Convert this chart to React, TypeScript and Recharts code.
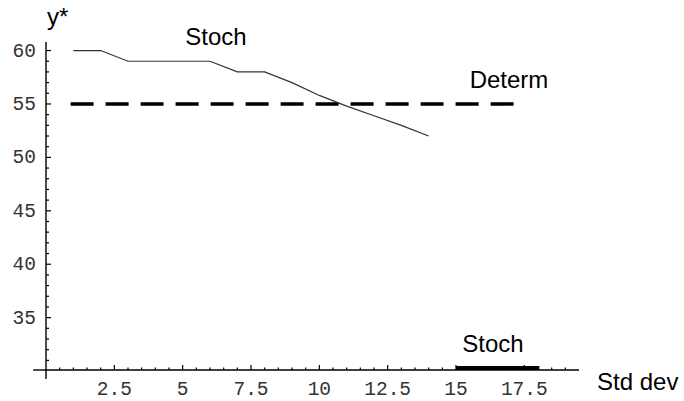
import {
  LineChart,
  Line,
  XAxis,
  YAxis,
  ReferenceLine,
} from "recharts";

// Stoch curve (optimal y* vs std dev)
const stochX = [1, 2, 3, 4, 5, 6, 7, 8, 9, 10, 11, 12, 13, 14];
const stochY = [60, 60, 59, 59, 59, 59, 58, 58, 57, 55.8, 54.8, 53.9, 53, 52];

// Determ is flat
const determX = [0.9, 17.4];
const determY = [55, 55];

// thick key segment near the axis
const keyX = [15, 18.05];
const keyY = [30.29, 30.29];

const xTicks = Array.from({ length: 38 }, (_, i) => (i + 1) * 0.5);
const yTicks = Array.from({ length: 30 }, (_, i) => 31 + i);
const xMajor = [2.5, 5, 7.5, 10, 12.5, 15, 17.5];
const yMajor = [35, 40, 45, 50, 55, 60];

const stochData = stochX.map((x, i) => ({ x, y: stochY[i] }));
const determData = determX.map((x, i) => ({ x, y: determY[i] }));
const keyData = keyX.map((x, i) => ({ x, y: keyY[i] }));

const tickFont = "'Liberation Mono', 'Courier New', monospace";
const labelFont = "'Liberation Sans', Arial, sans-serif";

const XTick = (props: any) => {
  const { x, y, payload } = props;
  const v = payload.value;
  const major = xMajor.includes(v);
  return (
    <g>
      <line x1={x} x2={x} y1={y} y2={y - (major ? 5 : 2.5)} stroke="#000" strokeWidth={1.2} />
      {major && (
        <text x={x} y={y + 25} textAnchor="middle" fontFamily={tickFont} fontSize={19.5} fill="#333">
          {v}
        </text>
      )}
    </g>
  );
};

const YTick = (props: any) => {
  const { x, y, payload } = props;
  const v = payload.value;
  const major = yMajor.includes(v);
  return (
    <g>
      <line x1={x} x2={x + (major ? 5 : 3)} y1={y} y2={y} stroke="#000" strokeWidth={1.2} />
      {major && (
        <text x={x - 10} y={y + 6} textAnchor="end" fontFamily={tickFont} fontSize={19.5} fill="#333">
          {v}
        </text>
      )}
    </g>
  );
};

export default function App() {
  return (
    <div style={{ position: "absolute", left: 0, top: 0, width: 684, height: 401, background: "#fff" }}>
      <LineChart
        width={684}
        height={401}
        margin={{ top: 42, left: 0, right: 105, bottom: 0 }}
      >
        <XAxis
          type="number"
          dataKey="x"
          domain={[0, 19.5]}
          ticks={xTicks}
          interval={0}
          height={31}
          tickSize={0}
          tickMargin={0}
          tick={<XTick />}
          axisLine={{ stroke: "#000", strokeWidth: 1.4 }}
          allowDataOverflow
        />
        <YAxis
          type="number"
          dataKey="y"
          domain={[30.1, 60.8]}
          ticks={yTicks}
          interval={0}
          width={46}
          tickSize={0}
          tickMargin={0}
          tick={<YTick />}
          axisLine={{ stroke: "#000", strokeWidth: 1.4 }}
          allowDataOverflow
        />
        <ReferenceLine
          segment={[{ x: -0.47, y: 30.1 }, { x: 0, y: 30.1 }]}
          stroke="#000"
          strokeWidth={1.4}
          ifOverflow="visible"
        />
        <ReferenceLine
          segment={[{ x: 0, y: 30.1 }, { x: 0, y: 29.25 }]}
          stroke="#000"
          strokeWidth={1.4}
          ifOverflow="visible"
        />
        <Line
          data={determData}
          dataKey="y"
          stroke="#000"
          strokeWidth={3.5}
          strokeDasharray="23 12"
          dot={false}
          isAnimationActive={false}
        />
        <Line
          data={stochData}
          dataKey="y"
          stroke="#333"
          strokeWidth={1.2}
          dot={false}
          isAnimationActive={false}
        />
        <Line
          data={keyData}
          dataKey="y"
          stroke="#000"
          strokeWidth={4}
          dot={false}
          isAnimationActive={false}
        />
      </LineChart>
      <svg
        width={684}
        height={401}
        style={{ position: "absolute", left: 0, top: 0, pointerEvents: "none" }}
        fontFamily={labelFont}
        fontSize={24}
        fill="#000"
      >
        <text x={47} y={25}>y*</text>
        <text x={216} y={45} textAnchor="middle">Stoch</text>
        <text x={509} y={88} textAnchor="middle">Determ</text>
        <text x={493} y={352} textAnchor="middle">Stoch</text>
        <text x={597} y={390}>Std dev</text>
      </svg>
    </div>
  );
}
